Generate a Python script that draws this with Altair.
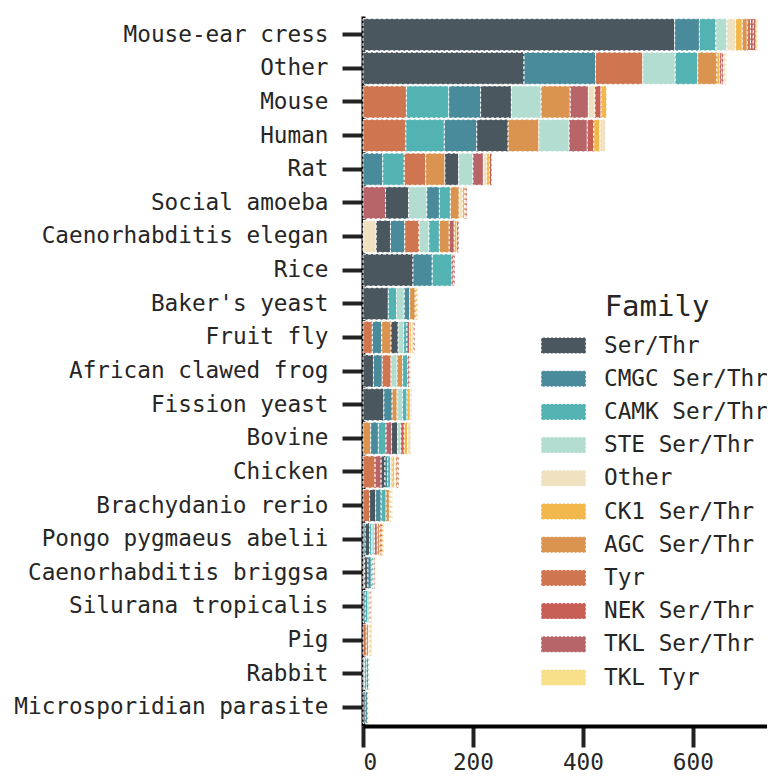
import altair as alt
import pandas as pd

# Species in display order (top to bottom)
species = [
    "Mouse-ear cress", "Other", "Mouse", "Human", "Rat", "Social amoeba",
    "Caenorhabditis elegan", "Rice", "Baker's yeast", "Fruit fly",
    "African clawed frog", "Fission yeast", "Bovine", "Chicken",
    "Brachydanio rerio", "Pongo pygmaeus abelii", "Caenorhabditis briggsa",
    "Silurana tropicalis", "Pig", "Rabbit", "Microsporidian parasite",
]

families = [
    "Ser/Thr", "CMGC Ser/Thr", "CAMK Ser/Thr", "STE Ser/Thr", "Other",
    "CK1 Ser/Thr", "AGC Ser/Thr", "Tyr", "NEK Ser/Thr", "TKL Ser/Thr", "TKL Tyr",
]

family_colors = [
    "#4b575f", "#4a8b9b", "#53b3b3", "#b3ddd0", "#f0e2c1",
    "#f2b84b", "#da9450", "#cf7650", "#c85f55", "#b86569", "#f8e08b",
]

# Segments of each bar, left to right: [family, count]
segments = {
    "Mouse-ear cress": [["Ser/Thr", 567], ["CMGC Ser/Thr", 45], ["CAMK Ser/Thr", 30], ["STE Ser/Thr", 20],
                        ["Other", 16], ["CK1 Ser/Thr", 12], ["AGC Ser/Thr", 9], ["Tyr", 6],
                        ["NEK Ser/Thr", 5], ["TKL Ser/Thr", 5], ["TKL Tyr", 3]],
    "Other": [["Ser/Thr", 293], ["CMGC Ser/Thr", 130], ["Tyr", 86], ["STE Ser/Thr", 59],
              ["CAMK Ser/Thr", 41], ["AGC Ser/Thr", 35], ["CK1 Ser/Thr", 5], ["TKL Ser/Thr", 4],
              ["NEK Ser/Thr", 3], ["Other", 3], ["TKL Tyr", 2]],
    "Mouse": [["Tyr", 79], ["CAMK Ser/Thr", 77], ["CMGC Ser/Thr", 58], ["Ser/Thr", 56],
              ["STE Ser/Thr", 54], ["AGC Ser/Thr", 53], ["TKL Ser/Thr", 33], ["Other", 12],
              ["NEK Ser/Thr", 11], ["CK1 Ser/Thr", 10]],
    "Human": [["Tyr", 78], ["CAMK Ser/Thr", 70], ["CMGC Ser/Thr", 59], ["Ser/Thr", 57],
              ["AGC Ser/Thr", 56], ["STE Ser/Thr", 55], ["TKL Ser/Thr", 33], ["NEK Ser/Thr", 12],
              ["CK1 Ser/Thr", 11], ["Other", 10]],
    "Rat": [["CMGC Ser/Thr", 36], ["CAMK Ser/Thr", 39], ["Tyr", 39], ["AGC Ser/Thr", 35],
            ["Ser/Thr", 25], ["STE Ser/Thr", 26], ["TKL Ser/Thr", 19], ["Other", 6],
            ["CK1 Ser/Thr", 5], ["NEK Ser/Thr", 4]],
    "Social amoeba": [["TKL Ser/Thr", 41], ["Ser/Thr", 42], ["STE Ser/Thr", 33], ["CMGC Ser/Thr", 23],
                      ["CAMK Ser/Thr", 20], ["AGC Ser/Thr", 16], ["Other", 6], ["CK1 Ser/Thr", 4],
                      ["Tyr", 2], ["NEK Ser/Thr", 2]],
    "Caenorhabditis elegan": [["Other", 24], ["Ser/Thr", 26], ["CMGC Ser/Thr", 26], ["Tyr", 26],
                              ["STE Ser/Thr", 18], ["CAMK Ser/Thr", 19], ["AGC Ser/Thr", 18],
                              ["TKL Ser/Thr", 9], ["CK1 Ser/Thr", 5], ["NEK Ser/Thr", 3]],
    "Rice": [["Ser/Thr", 91], ["CMGC Ser/Thr", 35], ["CAMK Ser/Thr", 36], ["NEK Ser/Thr", 3],
             ["TKL Ser/Thr", 2]],
    "Baker's yeast": [["Ser/Thr", 46], ["CAMK Ser/Thr", 15], ["STE Ser/Thr", 14], ["CMGC Ser/Thr", 10],
                      ["AGC Ser/Thr", 10], ["CK1 Ser/Thr", 3], ["Other", 2]],
    "Fruit fly": [["Tyr", 17], ["CMGC Ser/Thr", 17], ["AGC Ser/Thr", 17], ["Ser/Thr", 13],
                  ["STE Ser/Thr", 10], ["CAMK Ser/Thr", 6], ["TKL Ser/Thr", 5], ["CK1 Ser/Thr", 3],
                  ["Other", 4], ["NEK Ser/Thr", 2]],
    "African clawed frog": [["Ser/Thr", 19], ["CMGC Ser/Thr", 16], ["Tyr", 16], ["STE Ser/Thr", 11],
                            ["AGC Ser/Thr", 10], ["CAMK Ser/Thr", 9], ["TKL Ser/Thr", 3],
                            ["CK1 Ser/Thr", 2], ["Other", 2]],
    "Fission yeast": [["Ser/Thr", 38], ["CMGC Ser/Thr", 15], ["AGC Ser/Thr", 9], ["STE Ser/Thr", 10],
                      ["CAMK Ser/Thr", 8], ["CK1 Ser/Thr", 6], ["Other", 2], ["TKL Ser/Thr", 1]],
    "Bovine": [["AGC Ser/Thr", 14], ["CMGC Ser/Thr", 14], ["CAMK Ser/Thr", 14], ["TKL Ser/Thr", 10],
               ["Ser/Thr", 11], ["STE Ser/Thr", 6], ["NEK Ser/Thr", 6], ["CK1 Ser/Thr", 6], ["Other", 6]],
    "Chicken": [["Tyr", 22], ["TKL Ser/Thr", 11], ["Ser/Thr", 7], ["CMGC Ser/Thr", 5],
                ["CAMK Ser/Thr", 5], ["STE Ser/Thr", 3], ["CK1 Ser/Thr", 4], ["Other", 3],
                ["AGC Ser/Thr", 3], ["NEK Ser/Thr", 2]],
    "Brachydanio rerio": [["Tyr", 12], ["Ser/Thr", 11], ["CMGC Ser/Thr", 10], ["CAMK Ser/Thr", 9],
                          ["AGC Ser/Thr", 6], ["STE Ser/Thr", 2], ["CK1 Ser/Thr", 2], ["Other", 2]],
    "Pongo pygmaeus abelii": [["CMGC Ser/Thr", 4], ["Ser/Thr", 8], ["CAMK Ser/Thr", 4], ["STE Ser/Thr", 5],
                              ["TKL Ser/Thr", 5], ["AGC Ser/Thr", 4], ["Tyr", 3], ["NEK Ser/Thr", 2],
                              ["CK1 Ser/Thr", 2]],
    "Caenorhabditis briggsa": [["AGC Ser/Thr", 3], ["Ser/Thr", 6], ["CMGC Ser/Thr", 6], ["CAMK Ser/Thr", 3],
                               ["STE Ser/Thr", 2], ["Tyr", 2], ["CK1 Ser/Thr", 1], ["Other", 1]],
    "Silurana tropicalis": [["CMGC Ser/Thr", 4], ["CAMK Ser/Thr", 5], ["STE Ser/Thr", 3], ["Tyr", 2],
                            ["AGC Ser/Thr", 2], ["CK1 Ser/Thr", 1], ["Other", 1]],
    "Pig": [["Tyr", 6], ["AGC Ser/Thr", 4], ["Other", 3], ["CK1 Ser/Thr", 2], ["CMGC Ser/Thr", 1]],
    "Rabbit": [["AGC Ser/Thr", 3], ["CAMK Ser/Thr", 4], ["CMGC Ser/Thr", 3], ["STE Ser/Thr", 2],
               ["CK1 Ser/Thr", 1], ["Other", 1]],
    "Microsporidian parasite": [["Ser/Thr", 4], ["CMGC Ser/Thr", 4], ["CAMK Ser/Thr", 2],
                                ["CK1 Ser/Thr", 1], ["Other", 1]],
}

x_ticks = [0, 200, 400, 600]

rows = []
for sp in species:
    for i, (fam, cnt) in enumerate(segments[sp]):
        rows.append({"Species": sp, "Family": fam, "Count": cnt, "pos": i})
df = pd.DataFrame(rows)

FONT = "DejaVu Sans Mono"

chart = (
    alt.Chart(df)
    .mark_bar(stroke="white", strokeWidth=1, strokeDash=[3, 2])
    .encode(
        y=alt.Y(
            "Species:N",
            sort=species,
            title=None,
            scale=alt.Scale(paddingInner=0.05, paddingOuter=0.08),
            axis=alt.Axis(labelPadding=14, labelLimit=500),
        ),
        x=alt.X(
            "sum(Count):Q",
            stack="zero",
            title=None,
            scale=alt.Scale(domain=[0, 735], nice=False),
            axis=alt.Axis(values=x_ticks, labelPadding=4, grid=False),
        ),
        color=alt.Color(
            "Family:N",
            scale=alt.Scale(domain=families, range=family_colors),
            legend=alt.Legend(
                title="Family",
                orient="none",
                legendX=184,
                legendY=277,
                padding=0,
                titleFontSize=29,
                titleFontWeight="normal",
                titleFont=FONT,
                titleColor="#262626",
                titleAnchor="middle",
                titlePadding=7,
                labelFont=FONT,
                labelFontSize=22.7,
                labelColor="#262626",
                labelLimit=400,
                labelOffset=24,
                symbolType="M-1.4,-0.5H1.4V0.5H-1.4Z",
                symbolSize=1024,
                symbolStrokeColor="white",
                symbolStrokeWidth=1,
                symbolDash=[2, 2],
                symbolOpacity=1,
                rowPadding=4.2,
            ),
        ),
        order=alt.Order("pos:Q", sort="ascending"),
    )
    .properties(
        width=404,
        height=710,
        autosize=alt.AutoSizeParams(type="none"),
        padding={"left": 355, "top": 8, "right": 0, "bottom": 49},
    )
    .configure_view(stroke=None)
    .configure_axis(
        labelFont=FONT,
        labelFontSize=22.7,
        labelColor="#262626",
        domainColor="black",
        domainWidth=4,
        tickColor="#222222",
        tickWidth=4,
        tickSize=21,
    )
)

chart.save("out.html", embed_options={"renderer": "svg", "actions": False})
